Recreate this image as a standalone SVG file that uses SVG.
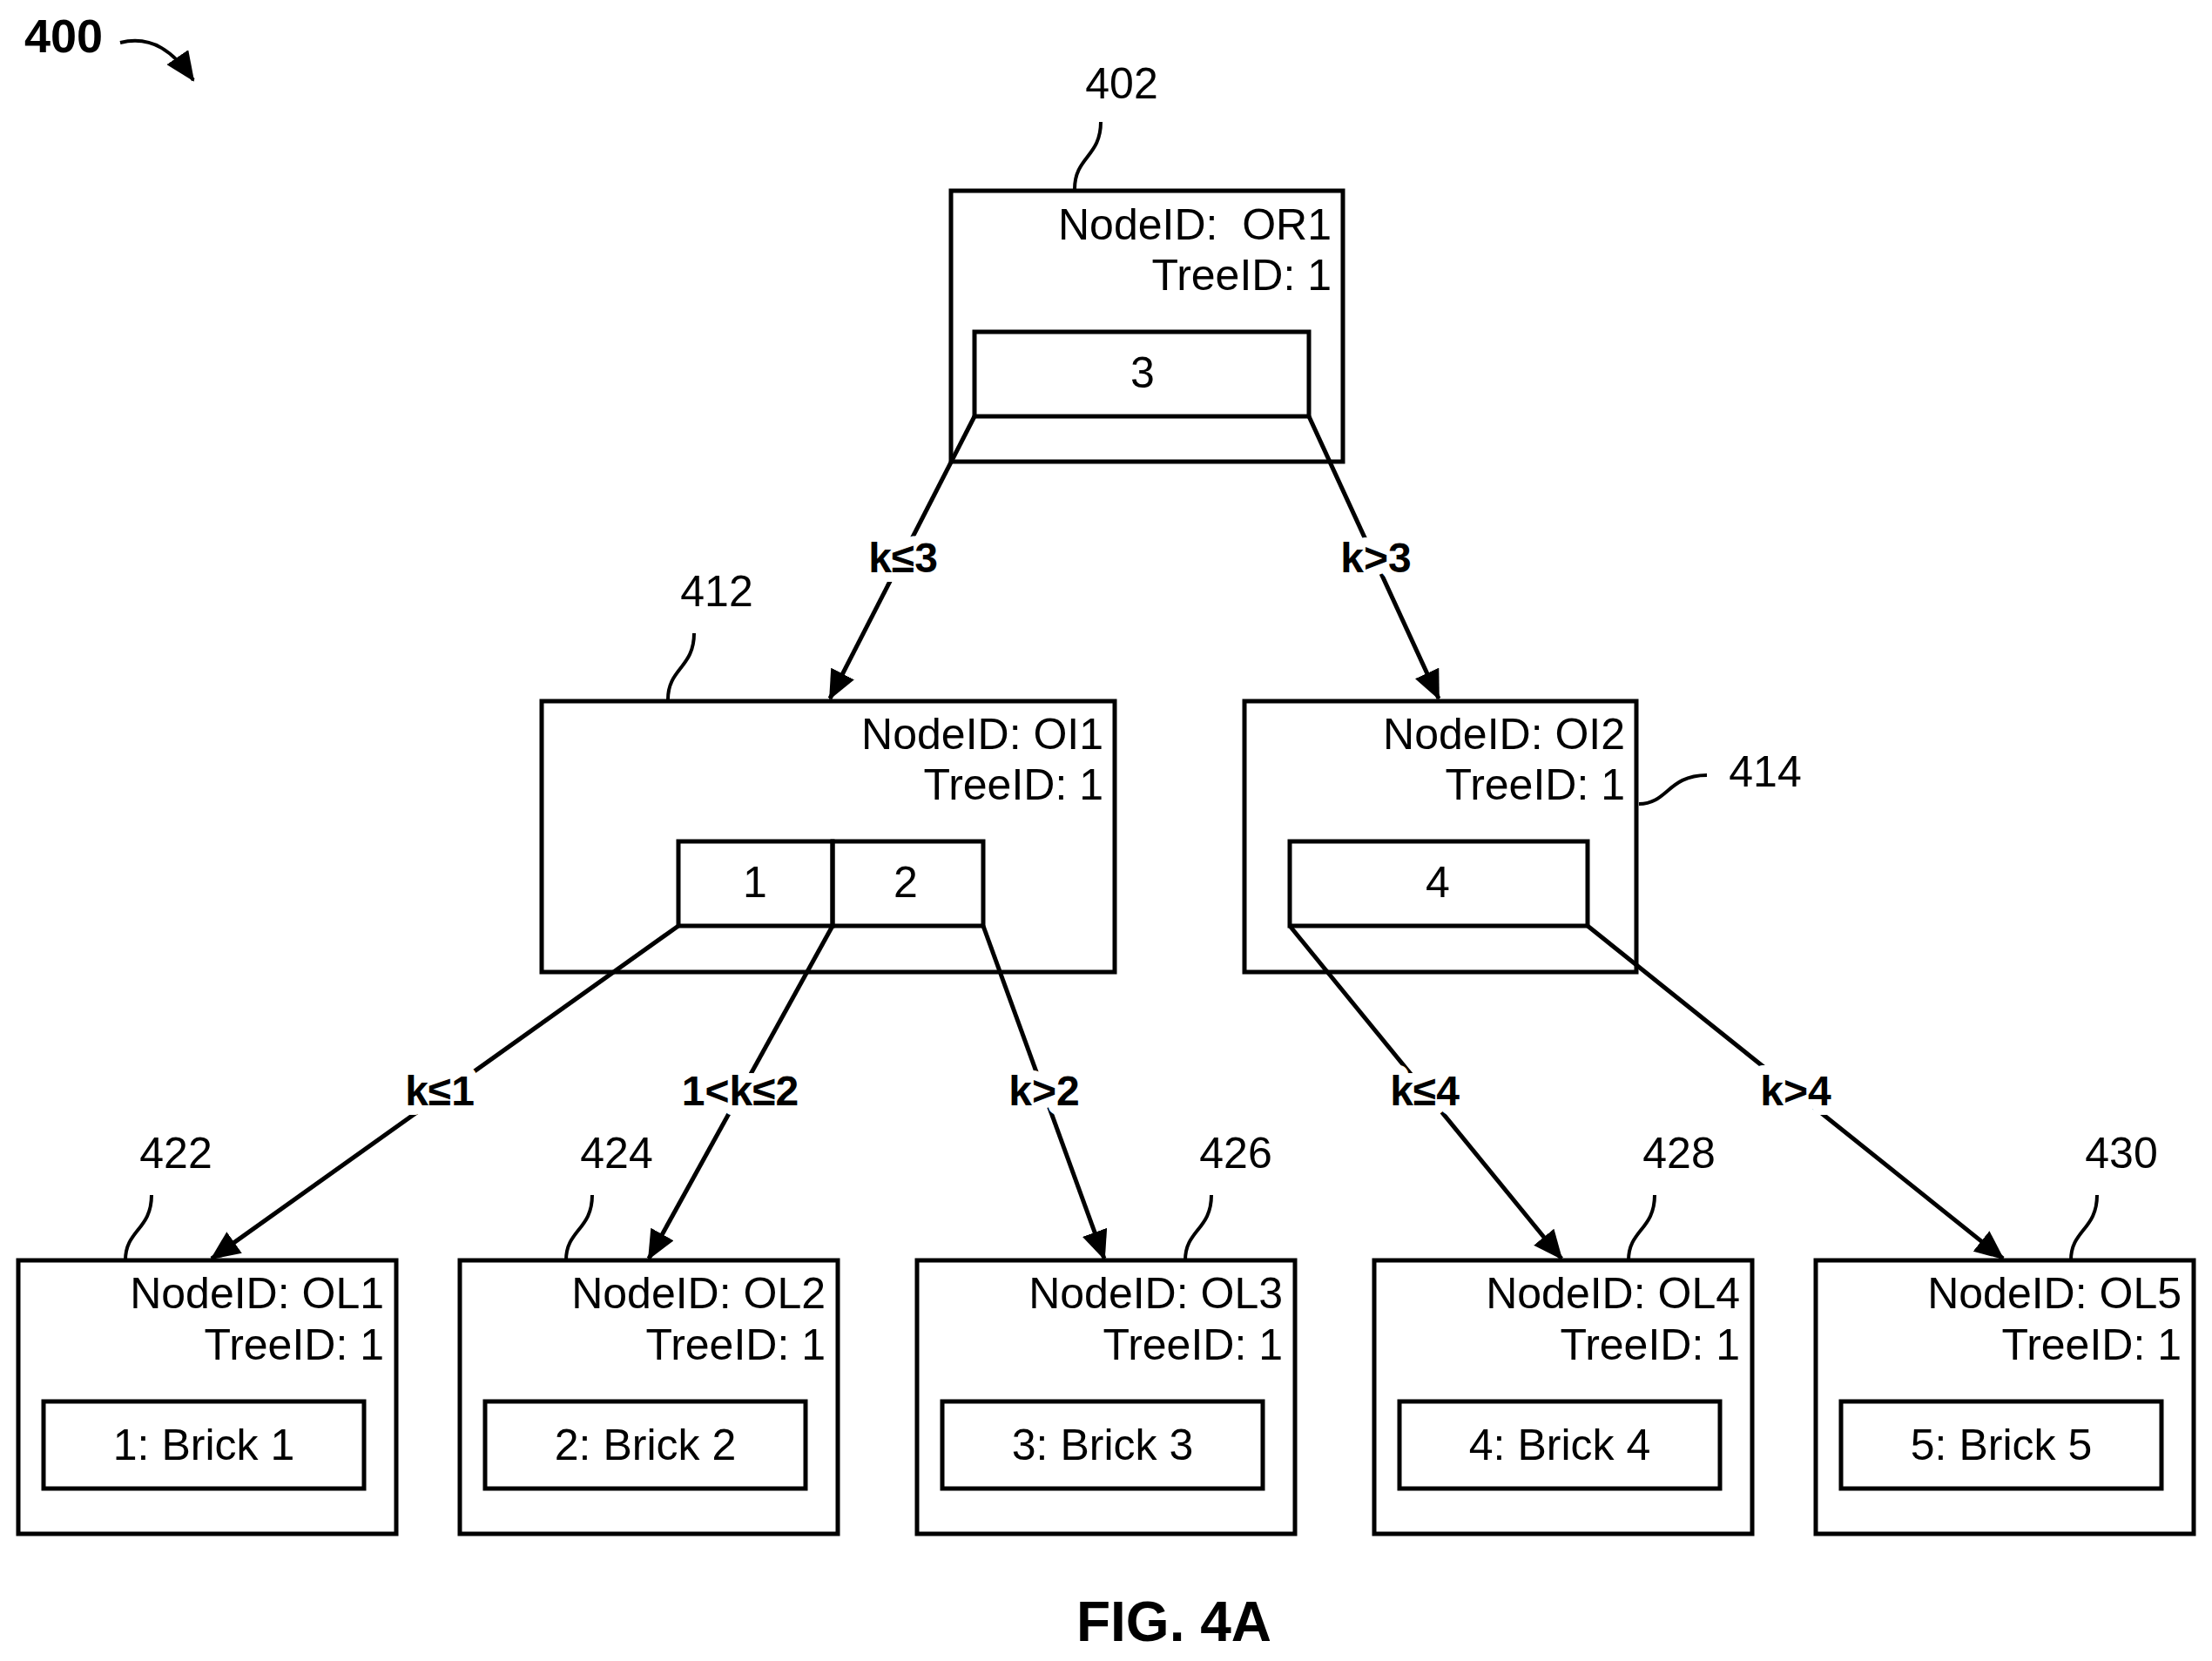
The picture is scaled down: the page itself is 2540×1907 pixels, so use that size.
<svg xmlns="http://www.w3.org/2000/svg" width="2540" height="1907" viewBox="0 0 2540 1907">
<style>
text{font-family:"Liberation Sans",Arial,sans-serif;font-size:50px;fill:#000}
.r{text-anchor:end}.c{text-anchor:middle}
.b{font-weight:bold}
.lbl{font-weight:bold;font-size:48px;text-anchor:middle;paint-order:stroke;stroke:#fff;stroke-width:22px;stroke-linejoin:round}
rect{fill:none;stroke:#000;stroke-width:5}
.e{stroke:#000;stroke-width:5;fill:none;marker-end:url(#ah)}
.ld{stroke:#000;stroke-width:4;fill:none}
</style>
<defs><marker id="ah" markerUnits="userSpaceOnUse" markerWidth="34" markerHeight="30" viewBox="0 0 34 30" refX="32" refY="15" orient="auto"><path d="M0,0 L34,15 L0,30 Z" fill="#000"/></marker></defs>
<rect width="2540" height="1907" style="fill:#fff;stroke:none"/>
<g id="fig400"><text x="28" y="60" class="b" style="font-size:54px">400</text><path class="ld" d="M138,49 C175,40 200,60 222,92" marker-end="url(#ah)"/></g>
<g id="connectors">
<line class="e" x1="1119" y1="478" x2="953" y2="802"/>
<line class="e" x1="1503" y1="478" x2="1652" y2="802"/>
<line class="e" x1="779" y1="1063" x2="243" y2="1445"/>
<line class="e" x1="956" y1="1063" x2="745" y2="1445"/>
<line class="e" x1="1129" y1="1063" x2="1268" y2="1445"/>
<line class="e" x1="1481" y1="1063" x2="1793" y2="1445"/>
<line class="e" x1="1823" y1="1063" x2="2300" y2="1445"/>
<text x="1037" y="657" class="lbl">k≤3</text>
<text x="1580" y="657" class="lbl">k&gt;3</text>
<text x="505" y="1269" class="lbl">k≤1</text>
<text x="850" y="1269" class="lbl">1&lt;k≤2</text>
<text x="1199" y="1269" class="lbl">k&gt;2</text>
<text x="1636" y="1269" class="lbl">k≤4</text>
<text x="2062" y="1269" class="lbl">k&gt;4</text>
</g>
<g id="or1"><rect x="1092" y="219" width="450" height="311"/><text x="1529" y="275" class="r">NodeID:&#160; OR1</text><text x="1529" y="333" class="r">TreeID: 1</text><rect x="1119" y="381" width="384" height="97"/><text x="1312" y="445" class="c">3</text>
<text x="1288" y="113" class="c">402</text><path class="ld" d="M1264,140 C1264,180 1234,180 1234,217"/></g>
<g id="oi1"><rect x="622" y="805" width="658" height="311"/><text x="1267" y="860" class="r">NodeID: OI1</text><text x="1267" y="918" class="r">TreeID: 1</text><rect x="779" y="966" width="177" height="97"/><rect x="956" y="966" width="173" height="97"/><text x="867" y="1030" class="c">1</text><text x="1040" y="1030" class="c">2</text>
<text x="823" y="696" class="c">412</text><path class="ld" d="M797,727 C797,767 767,767 767,803"/></g>
<g id="oi2"><rect x="1429" y="805" width="450" height="311"/><text x="1866" y="860" class="r">NodeID: OI2</text><text x="1866" y="918" class="r">TreeID: 1</text><rect x="1481" y="966" width="342" height="97"/><text x="1651" y="1030" class="c">4</text>
<text x="2027" y="903" class="c">414</text><path class="ld" d="M1882,923 C1915,923 1915,890 1960,890"/></g>
<g id="ol1"><rect x="21" y="1447" width="434" height="314"/><text x="441" y="1502" class="r">NodeID: OL1</text><text x="441" y="1561" class="r">TreeID: 1</text><rect x="50" y="1609" width="368" height="100"/><text x="234" y="1676" class="c">1: Brick 1</text>
<text x="202" y="1341" class="c">422</text><path class="ld" d="M174,1372 C174,1412 144,1412 144,1447"/></g>
<g id="ol2"><rect x="528" y="1447" width="434" height="314"/><text x="948" y="1502" class="r">NodeID: OL2</text><text x="948" y="1561" class="r">TreeID: 1</text><rect x="557" y="1609" width="368" height="100"/><text x="741" y="1676" class="c">2: Brick 2</text>
<text x="708" y="1341" class="c">424</text><path class="ld" d="M680,1372 C680,1412 650,1412 650,1447"/></g>
<g id="ol3"><rect x="1053" y="1447" width="434" height="314"/><text x="1473" y="1502" class="r">NodeID: OL3</text><text x="1473" y="1561" class="r">TreeID: 1</text><rect x="1082" y="1609" width="368" height="100"/><text x="1266" y="1676" class="c">3: Brick 3</text>
<text x="1419" y="1341" class="c">426</text><path class="ld" d="M1391,1372 C1391,1412 1361,1412 1361,1447"/></g>
<g id="ol4"><rect x="1578" y="1447" width="434" height="314"/><text x="1998" y="1502" class="r">NodeID: OL4</text><text x="1998" y="1561" class="r">TreeID: 1</text><rect x="1607" y="1609" width="368" height="100"/><text x="1791" y="1676" class="c">4: Brick 4</text>
<text x="1928" y="1341" class="c">428</text><path class="ld" d="M1900,1372 C1900,1412 1870,1412 1870,1447"/></g>
<g id="ol5"><rect x="2085" y="1447" width="434" height="314"/><text x="2505" y="1502" class="r">NodeID: OL5</text><text x="2505" y="1561" class="r">TreeID: 1</text><rect x="2114" y="1609" width="368" height="100"/><text x="2298" y="1676" class="c">5: Brick 5</text>
<text x="2436" y="1341" class="c">430</text><path class="ld" d="M2408,1372 C2408,1412 2378,1412 2378,1447"/></g>
<text x="1348" y="1884" class="c b" style="font-size:64px">FIG. 4A</text>
</svg>
